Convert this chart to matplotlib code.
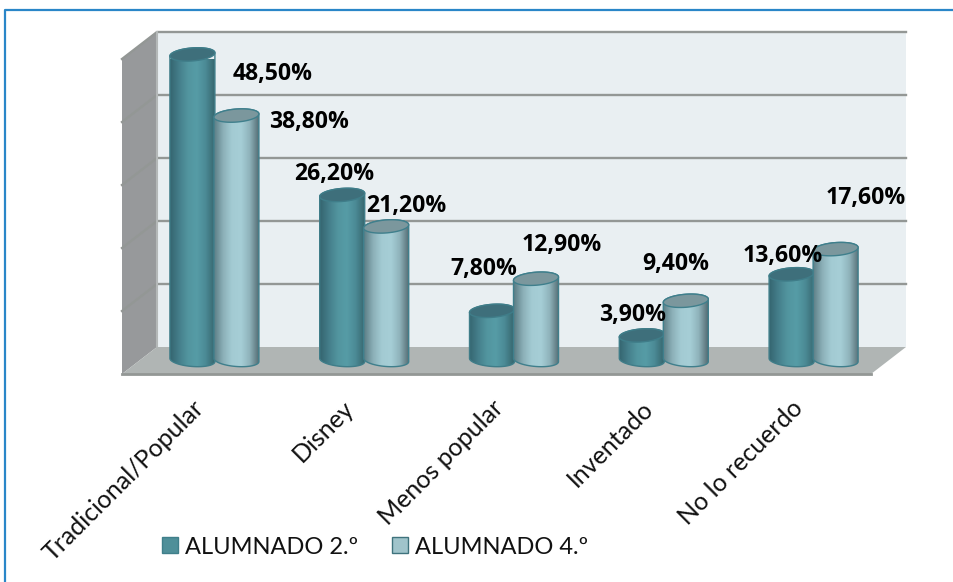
import matplotlib
matplotlib.use('Agg')
import matplotlib.pyplot as plt
from matplotlib.colors import LinearSegmentedColormap
from matplotlib.lines import Line2D
from matplotlib.patches import Patch, Polygon
from matplotlib.transforms import ScaledTranslation
import numpy as np

# data
categorias = ['Tradicional/Popular', 'Disney', 'Menos popular', 'Inventado', 'No lo recuerdo']
alumnado_2 = [48.5, 26.2, 7.8, 3.9, 13.6]
alumnado_4 = [38.8, 21.2, 12.9, 9.4, 17.6]
etiquetas_2 = ['48,50%', '26,20%', '7,80%', '3,90%', '13,60%']
etiquetas_4 = ['38,80%', '21,20%', '12,90%', '9,40%', '17,60%']
rejilla = [0, 10, 20, 30, 40, 50]

# label offsets from the top of each cylinder, in pixels
off_2 = [(80, -20), (-8, 21), (-8, 42), (-9, 20), (-9, 18)]
off_4 = [(73, -6), (20, 20), (26, 34), (-10, 37), (30, 51)]

# pseudo 3d geometry, data units
W, H = 954, 582
fondo_x, fondo_y = 35 / 149.8, 27 / 6.3
medio_x, medio_y = 17.5 / 149.8, 14 / 6.3
radio = 22.5 / 149.8
alto_elipse = 6.5 / 6.3
inclina = 0.25
sep = 22 / 149.8

plt.rcParams['font.family'] = ['Lato', 'DejaVu Sans']
fig = plt.figure(figsize=(W / 100, H / 100), dpi=100)
ax = fig.add_axes([122 / W, 1 - 374 / H, 749 / W, 315 / H])
ax.set_xlim(0, 5)
ax.set_ylim(0, 50)
for s in ax.spines.values():
    s.set_visible(False)
ax.patch.set_alpha(0)
ax.set_yticks([])

# walls and floor
ax.add_patch(Polygon([(fondo_x, fondo_y), (5 + fondo_x, fondo_y), (5 + fondo_x, 50 + fondo_y), (fondo_x, 50 + fondo_y)],
                     fc='#e9eff2', ec='none', clip_on=False, zorder=1))
ax.add_patch(Polygon([(0, 0), (fondo_x, fondo_y), (fondo_x, 50 + fondo_y), (0, 50)],
                     fc='#97999b', ec='none', clip_on=False, zorder=1))
for g in rejilla[1:]:
    ax.plot([0, fondo_x, 5 + fondo_x], [g, g + fondo_y, g + fondo_y], color='#939795', lw=1.7, clip_on=False,
            zorder=2, solid_joinstyle='miter')
ax.plot([fondo_x, fondo_x], [fondo_y, 50 + fondo_y], color='#b4b8b8', lw=1.5, clip_on=False, zorder=2)
ax.add_patch(Polygon([(0, 0), (fondo_x, fondo_y), (5 + fondo_x, fondo_y), (5, 0)],
                     fc='#b0b5b4', ec='none', clip_on=False, zorder=3))
ax.plot([0, 5], [0, 0], color='#939795', lw=2, clip_on=False, zorder=3)

cmap_2 = LinearSegmentedColormap.from_list('c2', ['#356570', '#457f8b', '#52959f', '#569ca6', '#4b8a95', '#37676f'])
cmap_4 = LinearSegmentedColormap.from_list('c4', ['#5d7f87', '#8cb0b8', '#a3cbd3', '#a6ced6', '#8fb3bb', '#566f76'])


def cilindro(xc, valor, cmap, tapa, borde, z):
    t = np.linspace(0, np.pi, 40)
    y0 = medio_y
    y1 = medio_y + valor
    dx = radio * np.cos(t)
    incl = inclina * alto_elipse * np.cos(t)
    arriba = np.column_stack([xc + dx, y1 + alto_elipse * np.sin(t) + incl])
    abajo = np.column_stack([xc + dx[::-1], y0 - alto_elipse * np.sin(t) - incl[::-1]])
    cuerpo = Polygon(np.vstack([arriba, abajo]), fc='none', ec=borde, lw=1.0, clip_on=False, zorder=z + 0.2)
    ax.add_patch(cuerpo)
    im = ax.imshow(np.linspace(0, 1, 64).reshape(1, -1), cmap=cmap, aspect='auto', interpolation='bilinear',
                   extent=[xc - radio, xc + radio, y0 - 2 * alto_elipse, y1 + 2 * alto_elipse], zorder=z)
    im.set_clip_path(cuerpo)
    t2 = np.linspace(0, 2 * np.pi, 80)
    ax.add_patch(Polygon(np.column_stack([xc + radio * np.cos(t2),
                                          y1 + alto_elipse * np.sin(t2) + inclina * alto_elipse * np.cos(t2)]),
                         fc=tapa, ec=borde, lw=1.0, clip_on=False, zorder=z + 0.3))


x = np.arange(len(categorias)) + 0.5
for i in range(len(categorias)):
    cilindro(x[i] + medio_x - sep, alumnado_2[i], cmap_2, '#3e6f7b', '#3f7d89', 5 + i)
    cilindro(x[i] + medio_x + sep, alumnado_4[i], cmap_4, '#7b979d', '#3f7f8c', 5.5 + i)
    ax.annotate(etiquetas_2[i], (x[i] + medio_x - sep, alumnado_2[i] + medio_y), xytext=off_2[i],
                textcoords='offset pixels', ha='center', va='center', fontsize=16.6, fontweight='bold',
                family='Open Sans', color='black', zorder=20, annotation_clip=False)
    ax.annotate(etiquetas_4[i], (x[i] + medio_x + sep, alumnado_4[i] + medio_y), xytext=off_4[i],
                textcoords='offset pixels', ha='center', va='center', fontsize=16.6, fontweight='bold',
                family='Open Sans', color='black', zorder=20, annotation_clip=False)

ax.set_xlim(0, 5)
ax.set_ylim(0, 50)
ax.set_xticks(x)
ax.set_xticklabels(categorias, rotation=45, ha='right', va='top', rotation_mode='anchor', fontsize=18, color='#111111')
ax.tick_params(axis='x', length=0, pad=16)
for lab in ax.get_xticklabels():
    lab.set_transform(lab.get_transform() + ScaledTranslation(-5 / 100, 0, fig.dpi_scale_trans))

# legend
leg = fig.legend(handles=[Patch(fc='#4f8f99', ec='#3f7f8a', label='ALUMNADO 2.º'),
                          Patch(fc='#a0c4cb', ec='#3f737d', label='ALUMNADO 4.º')],
                 ncol=2, frameon=False, fontsize=17, loc='center left', bbox_to_anchor=(141 / W, 1 - 547 / H),
                 handlelength=0.68, handleheight=0.68, handletextpad=0.3, columnspacing=1.4, labelcolor='#111111')

# blue frame
fig.add_artist(Line2D([5 / W, 5 / W, 953 / W], [0, 1 - 10 / H, 1 - 10 / H], color='#2a86c8', lw=1.6))

fig.savefig('out.png', dpi=100)
